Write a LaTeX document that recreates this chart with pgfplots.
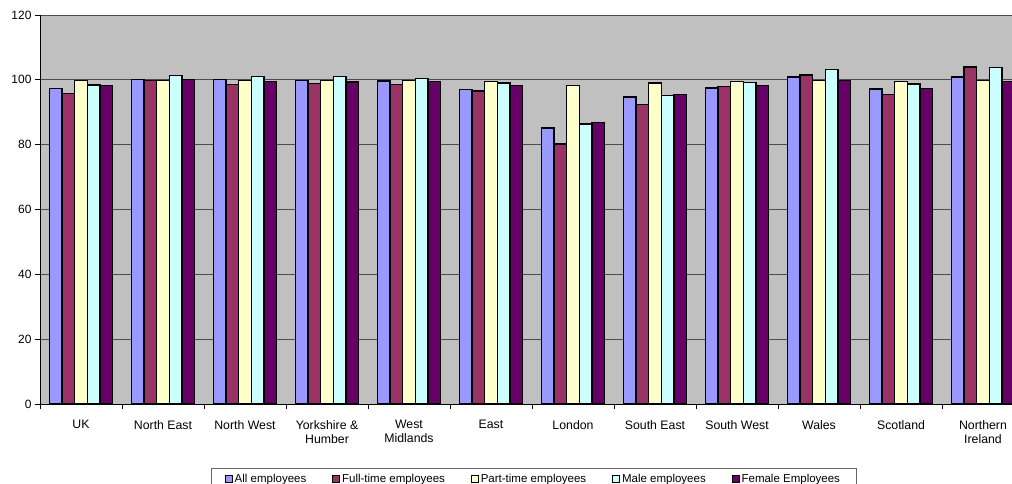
\documentclass[border=0pt]{standalone}
\usepackage{fontspec}
\setmainfont{Liberation Sans}
\usepackage{pgfplots}
\pgfplotsset{compat=1.18}
\definecolor{cAll}{HTML}{9999FF}
\definecolor{cFT}{HTML}{993366}
\definecolor{cPT}{HTML}{FFFFCC}
\definecolor{cMale}{HTML}{CCFFFF}
\definecolor{cFem}{HTML}{660066}
\definecolor{cBg}{HTML}{C0C0C0}
\begin{document}
\begin{tikzpicture}[x=1pt,y=1pt]
\begin{axis}[
  at={(40pt,79pt)}, anchor=south west,
  scale only axis, width=984pt, height=389pt,
  xmin=-0.5, xmax=11.5, ymin=0, ymax=120,
  ybar=0pt, bar width=0.155,
  axis background/.style={fill=cBg},
  axis x line*=bottom, axis y line*=left,
  axis line style={-, draw=black, line width=1pt},
  ytick={0,20,40,60,80,100,120},
  ymajorgrids, grid style={draw=black!70, line width=0.8pt},
  xtick={-0.5,0.5,1.5,2.5,3.5,4.5,5.5,6.5,7.5,8.5,9.5,10.5,11.5},
  x tick label as interval,
  xticklabels={UK,North East,North West,{Yorkshire \&\\Humber},{West\\Midlands},East,London,South East,South West,Wales,Scotland,{Northern\\Ireland}},
  xticklabel style={align=center, font=\fontsize{12.3}{14}\selectfont, yshift=-8pt},
  yticklabel style={font=\fontsize{12}{14}\selectfont},
  /pgf/number format/assume math mode=true,
  tick align=outside, major tick length=5pt,
  tick style={draw=black, line width=0.8pt},
  legend columns=5,
  legend style={at={(0.5015,0)}, anchor=north, yshift=-64pt,
    draw=black!60, line width=0.6pt, fill=white,
    font=\fontsize{11.5}{13}\selectfont,
    inner xsep=14pt, inner ysep=4pt,
    /tikz/every even column/.append style={column sep=24pt}},
  legend image code/.code={\draw[#1, line width=0.8pt] (0pt,-3pt) rectangle (7pt,4pt);},
  every axis plot/.append style={draw=black, line width=1.3pt},
]
\addplot[fill=cAll] coordinates {(0,97.4) (1,100.1) (2,100.2) (3,99.7) (4,99.6) (5,97.1) (6,85.1) (7,94.7) (8,97.5) (9,100.9) (10,97.2) (11,100.9)};
\addplot[fill=cFT] coordinates {(0,95.7) (1,99.7) (2,98.6) (3,98.8) (4,98.6) (5,96.6) (6,80.2) (7,92.3) (8,97.9) (9,101.5) (10,95.4) (11,104.0)};
\addplot[fill=cPT] coordinates {(0,99.7) (1,99.7) (2,99.7) (3,99.7) (4,99.7) (5,99.4) (6,98.2) (7,99.0) (8,99.4) (9,99.8) (10,99.4) (11,99.8)};
\addplot[fill=cMale] coordinates {(0,98.4) (1,101.4) (2,101.1) (3,101.0) (4,100.4) (5,99.0) (6,86.4) (7,95.2) (8,99.2) (9,103.2) (10,98.7) (11,103.9)};
\addplot[fill=cFem] coordinates {(0,98.2) (1,100.0) (2,99.4) (3,99.3) (4,99.4) (5,98.2) (6,86.9) (7,95.5) (8,98.2) (9,99.8) (10,97.4) (11,99.4)};
\legend{All employees,Full-time employees,Part-time employees,Male employees,Female Employees}
\end{axis}
\pgfresetboundingbox
\useasboundingbox (0,0) rectangle (1012,483);
\end{tikzpicture}
\end{document}
